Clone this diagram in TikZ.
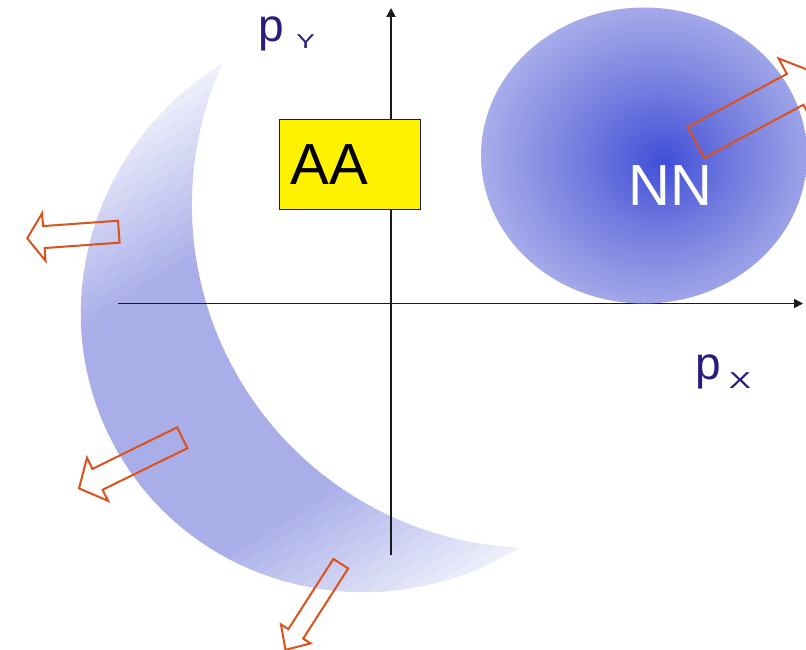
\documentclass[tikz,border=0pt]{standalone}
\usepackage{fontspec}
\usepackage{graphicx}
\setmainfont{Liberation Sans}
\usetikzlibrary{arrows.meta,shapes.geometric}
\definecolor{cres}{HTML}{A9AEE9}
\definecolor{nnin}{HTML}{3F4FD8}
\definecolor{nnmid}{HTML}{737CDF}
\definecolor{nnmid2}{HTML}{ADB2EB}
\definecolor{nnout}{HTML}{D6D8F5}
\definecolor{arrcol}{HTML}{DA521C}
\definecolor{labcol}{HTML}{2C1A7C}
\definecolor{axcol}{HTML}{1A1A1A}
\pgfdeclareradialshading{nnshade}{\pgfpoint{3bp}{-1bp}}{color(0bp)=(nnin); color(12bp)=(nnmid); color(28bp)=(nnmid2); color(50bp)=(nnout)}
\tikzset{
  axisline/.style={draw=axcol, line width=1.8pt, -{Triangle[length=9pt,width=9pt]}},
  arrowline/.style={draw=arrcol, line width=2pt, line join=miter},
  bigtext/.style={font=\fontsize{58}{60}\selectfont, inner sep=0pt, anchor=base west},
  labtext/.style={text=labcol, inner sep=0pt, anchor=base west, font=\fontsize{46}{50}\selectfont},
}
\newcommand\barrow[7]{\draw[arrowline, shift={(#1,#2)}, rotate=#3] (0,-#5) -- (#4,-#5) -- (#4,-#6) -- (#4+#7,0) -- (#4,#6) -- (#4,#5) -- (0,#5) -- cycle;}
\begin{document}
\begin{tikzpicture}[x=1pt,y=-1pt]
\useasboundingbox (0,0) rectangle (806,650);
\clip (0,0) rectangle (806,650);
% crescent
\begin{scope}[shift={(371,306.5)}, x={(0.5251pt,-0.8511pt)}, y={(-0.8511pt,-0.5251pt)}]
  \clip (-284,0) arc[start angle=145.8, end angle=34.2, radius=343]
        arc[start angle=0, end angle=180, x radius=284, y radius=292] -- cycle;
  \foreach \i in {0,...,66} {
    \pgfmathsetmacro\uu{-330+10*\i}
    \pgfmathsetmacro\ff{max(0,min(100,(320-abs(\uu+5))/190*100))}
    \fill[cres!\ff!white] (\uu,-10) -- (\uu+11,-10) -- (\uu+11,300) -- (\uu,300) -- cycle;
  }
\end{scope}
% axes
\coordinate (xs) at (118,303.5);
\coordinate (xe) at (803,303.5);
\coordinate (ys) at (391,555);
\coordinate (ye) at (391,8);
\draw[axisline] (xs) -- (xe);
\draw[axisline] (ys) -- (ye);
% AA box
\node[draw=axcol, fill=yellow, line width=1pt, minimum width=141.7pt, minimum height=89pt, inner sep=0pt] (aa) at (350,164.5) {};
\node[bigtext, text=black] (aatext) at (290.5,184) {AA};
% NN ellipse
\node[ellipse, shading=nnshade, minimum width=326pt, minimum height=296pt, inner sep=0pt] (nn) at (644,155.5) {};
\node[bigtext, text=white] (nntext) at (628,205) {NN};
% outward arrows
\barrow{118.8}{231.7}{184.1}{75.2}{11}{23.8}{16.6}
\barrow{182.3}{437.8}{-153.9}{94.4}{11.6}{24}{20.6}
\barrow{340.8}{563.7}{-122.7}{83.4}{8.8}{17.6}{19}
\barrow{696}{142.5}{28.2}{112.5}{17.5}{35}{30}
% labels
\node[labtext] (py) at (258.5,41.5) {p\kern12pt\raisebox{-7pt}{\fontsize{20}{22}\selectfont\scalebox{1.4}[1]{Y}}};
\node[labtext] (px) at (695,379) {p\kern8pt\raisebox{-9pt}{\fontsize{23}{25}\selectfont\scalebox{1.45}[1]{X}}};
\end{tikzpicture}
\end{document}
